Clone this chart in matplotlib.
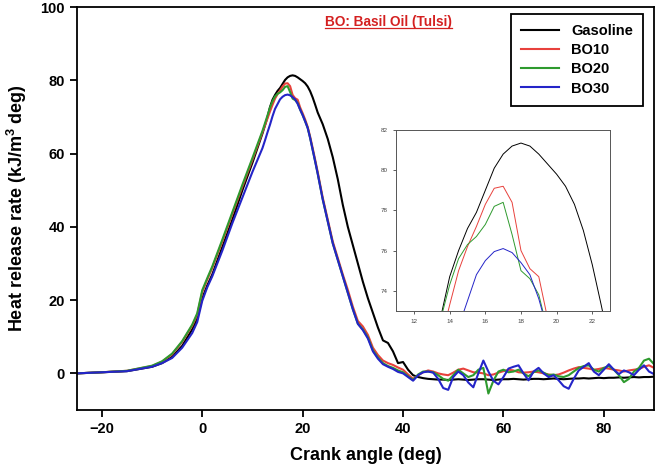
import matplotlib
matplotlib.use("Agg")
import matplotlib.pyplot as plt
from matplotlib.lines import Line2D

plt.rcParams['font.family'] = ['Liberation Sans', 'DejaVu Sans']
plt.rcParams['mathtext.default'] = 'regular'

# crank angle grid (deg)
angle_rise = [-25, -20, -15, -10, -8, -6, -4, -2, -1, 0, 1, 2, 4, 6, 8, 10]
angle_peak = [12, 12.5, 13, 13.5, 14, 14.5, 15, 15.5, 16, 16.5, 17, 17.5, 18,
              18.5, 19, 19.5, 20, 20.5, 21, 21.5, 22, 22.5, 23]
angle_fall = list(range(24, 42))
angle_tail = list(range(42, 91))
crank_angle = angle_rise + angle_peak + angle_fall + angle_tail

gasoline = (
    [0.0, 0.3, 0.6, 1.8, 2.8, 4.5, 7.5, 12.0, 15.0, 20.5, 24.0, 27.0, 34.5, 42.0, 50.0, 57.5]
    + [65.5, 67.7, 70.0, 72.7, 74.7, 76.0, 77.1, 77.9, 79.0, 80.1, 80.8, 81.2, 81.35,
       81.2, 80.8, 80.3, 79.8, 79.2, 78.3, 77.0, 75.3, 73.3, 71.2]
    + [68.0, 64.0, 59.0, 53.0, 46.0, 40.0, 35.0, 30.0, 25.0, 20.5, 16.5, 12.5, 9.0,
       8.3, 6.0, 2.8, 3.1, 1.0]
    + [-0.5, -1.0, -1.3, -1.5, -1.6, -1.7, -1.7, -1.8, -1.7, -1.6, -1.7, -1.8, -1.7,
       -1.6, -1.6, -1.7, -1.8, -1.7, -1.6, -1.6, -1.5, -1.6, -1.7, -1.6, -1.5, -1.5,
       -1.6, -1.5, -1.4, -1.5, -1.6, -1.5, -1.4, -1.4, -1.3, -1.4, -1.3, -1.2, -1.3,
       -1.2, -1.2, -1.1, -1.2, -1.1, -1.0, -1.1, -1.0, -1.0, -0.9]
)

bo10 = (
    [0.0, 0.3, 0.7, 2.0, 3.2, 5.2, 8.6, 13.0, 16.0, 22.2, 25.6, 28.8, 36.0, 43.5, 51.0, 58.3]
    + [65.8, 67.7, 69.6, 71.5, 73.3, 75.0, 76.2, 77.2, 78.3, 79.1, 79.2, 78.4, 76.0,
       75.1, 74.7, 72.6, 71.0, 69.3, 67.3, 64.6, 61.5, 58.3, 55.0]
    + [48.0, 42.0, 36.0, 31.5, 27.0, 22.8, 18.2, 14.3, 12.8, 10.5, 7.0, 5.0, 3.5,
       2.8, 2.3, 1.6, 1.0, -0.3]
    + [-1.5, -0.5, 0.3, 0.8, 0.5, 0.0, -0.3, -0.5, 0.2, 1.0, 1.3, 0.8, 0.3, 0.2,
       0.0, -0.5, -0.3, 0.2, 0.6, 1.0, 0.8, 0.3, 0.2, 0.3, 0.5, 0.3, 0.0, -0.3, -0.5,
       -0.3, 0.2, 0.8, 1.3, 1.7, 1.5, 1.3, 1.0, 1.2, 1.5, 1.3, 1.0, 0.8, 0.5, 0.8,
       1.0, 1.2, 1.8, 2.2, 1.5]
)

bo20 = (
    [0.0, 0.3, 0.7, 2.1, 3.3, 5.4, 8.8, 13.3, 16.4, 22.7, 26.0, 29.2, 36.5, 44.0, 51.5, 58.8]
    + [66.2, 68.3, 70.4, 72.6, 74.3, 75.6, 76.3, 76.7, 77.3, 78.2, 78.4, 76.8, 75.0,
       74.6, 73.8, 72.0, 70.5, 68.8, 67.0, 64.2, 61.0, 57.8, 54.5]
    + [47.5, 41.5, 35.5, 31.0, 26.5, 22.0, 17.5, 13.6, 12.0, 9.8, 6.3, 4.3, 2.8,
       2.0, 1.5, 0.8, 0.3, -0.8]
    + [-1.8, -0.3, 0.5, 0.5, 0.3, -0.5, -1.5, -2.0, -0.5, 1.0, 0.0, -1.0, -0.5, 1.0,
       1.5, -5.5, -2.0, 0.5, 1.0, 0.3, 0.5, 1.0, 0.0, -0.8, 0.3, 0.8, 0.2, -0.5, -0.3,
       -0.8, -1.0, -0.5, 0.5, 1.5, 2.0, 2.2, 1.0, 0.5, 1.5, 2.0, 1.0, -0.5, -2.4, -1.5,
       0.5, 1.5, 3.5, 4.0, 2.5]
)

bo30 = (
    [0.0, 0.3, 0.6, 1.8, 2.8, 4.2, 7.0, 11.0, 14.0, 19.8, 23.5, 26.5, 33.5, 41.0, 48.0, 55.0]
    + [61.5, 63.6, 65.8, 67.9, 70.2, 72.2, 73.5, 74.8, 75.5, 75.95, 76.1, 75.9, 75.4,
       74.8, 73.6, 72.0, 70.5, 68.8, 67.0, 64.2, 61.0, 57.8, 54.5]
    + [47.5, 41.5, 35.5, 31.0, 26.5, 22.0, 17.5, 13.5, 11.8, 9.5, 6.0, 4.0, 2.5,
       1.8, 1.2, 0.4, 0.0, -1.0]
    + [-2.0, -0.5, 0.3, 0.5, 0.2, -1.5, -4.0, -4.5, -1.0, 0.5, -0.5, -2.5, -3.8, 0.0,
       3.5, 0.5, -2.0, -3.0, -1.0, 1.3, 1.8, 2.2, 0.0, -1.9, 0.5, 1.5, 0.0, -1.0, -0.5,
       -1.9, -3.5, -4.2, -1.5, 0.8, 1.8, 2.8, 0.5, -0.5, 1.0, 2.5, 1.0, -0.2, 0.8, 0.3,
       -0.5, 1.0, 2.2, 0.5, -0.2]
)

labels = ['Gasoline', 'BO10', 'BO20', 'BO30']
colors = ['black', '#e8413c', '#2e9a2e', '#2424c8']
series = [gasoline, bo10, bo20, bo30]

fig = plt.figure(figsize=(6.56, 4.71), dpi=100)
ax = fig.add_axes([0.117, 0.1295, 0.880, 0.8556])

for vals, lab, c in zip(series, labels, colors):
    ax.plot(crank_angle, vals, color=c, lw=1.5, label=lab)

ax.set_xlim(-25, 90)
ax.set_ylim(-10, 100)
ax.set_xticks([-20, 0, 20, 40, 60, 80])
ax.set_yticks([0, 20, 40, 60, 80, 100])
ax.tick_params(direction='out', length=5, width=1.3, labelsize=10.5)
for t in ax.get_xticklabels() + ax.get_yticklabels():
    t.set_fontweight('bold')
for s in ax.spines.values():
    s.set_linewidth(1.3)

ax.set_xlabel('Crank angle (deg)', fontsize=13, fontweight='bold', labelpad=8)
ax.set_ylabel(r'Heat release rate (kJ/m$^{3}$ deg)', fontsize=13, fontweight='bold', labelpad=8)

leg = ax.legend(loc='upper right', bbox_to_anchor=(0.981, 0.9826), borderaxespad=0,
                fancybox=False, edgecolor='black', framealpha=1,
                prop={'weight': 'bold', 'size': 10.5}, handlelength=2.6,
                labelspacing=0.35, borderpad=0.7)
leg.get_frame().set_linewidth(1.3)

title = ax.text(0.54, 0.962, 'BO: Basil Oil (Tulsi)', transform=ax.transAxes,
                color='#d42020', fontsize=9.8, fontweight='bold', ha='center', va='center')

# inset zoom of the peak
axin = fig.add_axes([0.604, 0.340, 0.326, 0.384])
for vals, c in zip(series, colors):
    axin.plot(crank_angle, vals, color=c, lw=0.7)
axin.set_xlim(11, 23)
axin.set_ylim(73, 82)
axin.set_xticks([12, 14, 16, 18, 20, 22])
axin.set_yticks([74, 76, 78, 80, 82])
axin.tick_params(direction='out', length=2.5, width=0.6, labelsize=4.5, colors='#444444')
for s in axin.spines.values():
    s.set_linewidth(0.7)
    s.set_color('#555555')

# underline the title
fig.canvas.draw()
bb = title.get_window_extent().transformed(fig.transFigure.inverted())
fig.add_artist(Line2D([bb.x0, bb.x1], [bb.y0 + 0.002, bb.y0 + 0.002],
                      transform=fig.transFigure, color='#d42020', lw=0.9))

fig.savefig('out.png', dpi=100)
